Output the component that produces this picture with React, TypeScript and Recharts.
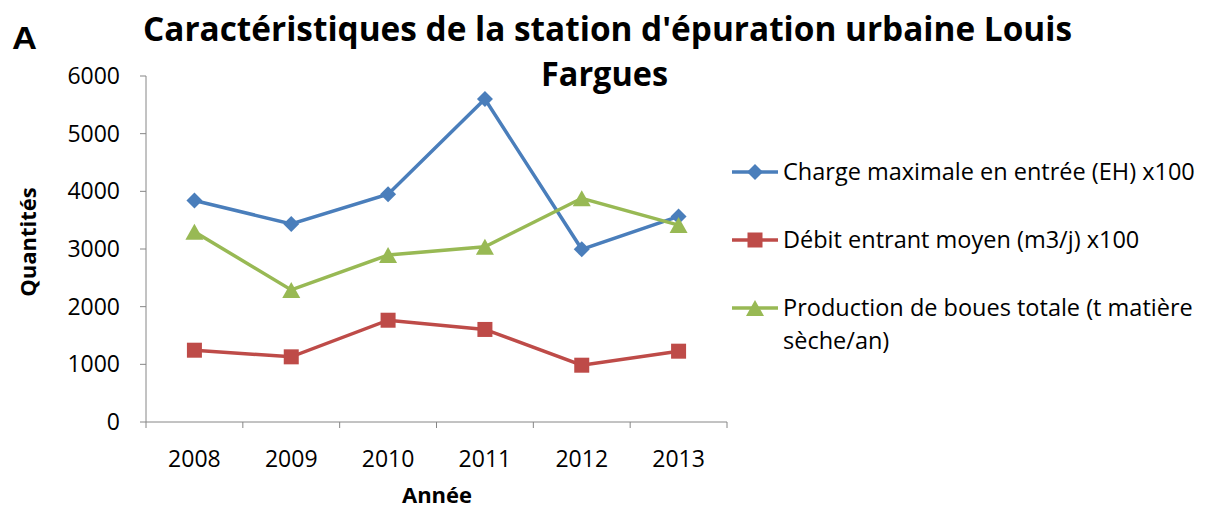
import React from "react";
import { LineChart, Line, XAxis, YAxis } from "recharts";

const years = ["2008", "2009", "2010", "2011", "2012", "2013"];
const charge = [3840, 3435, 3950, 5600, 2995, 3565];
const debit = [1245, 1130, 1765, 1605, 985, 1228];
const boues = [3300, 2290, 2895, 3040, 3880, 3415];
const yTicks = [0, 1000, 2000, 3000, 4000, 5000, 6000];

const seriesNames = [
  "Charge maximale en entrée (EH) x100",
  "Débit entrant moyen (m3/j) x100",
  "Production de boues totale (t matière",
];
const seriesNameCont = "sèche/an)";
const titleLine1 = "Caractéristiques de la station d'épuration urbaine Louis";
const titleLine2 = "Fargues";

const BLUE = "#4A7EBB";
const RED = "#BE4B48";
const GREEN = "#98B954";
const AXIS = "#868686";
const FONT = "'Open Sans', 'Noto Sans', sans-serif";

const data = years.map((y, i) => ({ year: y, charge: charge[i], debit: debit[i], boues: boues[i] }));

const Diamond = (p: any) => {
  const { cx, cy } = p;
  if (cx == null || cy == null) return null;
  const r = 8;
  return <path key={`d${cx}`} d={`M${cx},${cy - r}L${cx + r},${cy}L${cx},${cy + r}L${cx - r},${cy}Z`} fill={BLUE} />;
};
const Square = (p: any) => {
  const { cx, cy } = p;
  if (cx == null || cy == null) return null;
  const r = 7.5;
  return <rect key={`s${cx}`} x={cx - r} y={cy - r} width={2 * r} height={2 * r} fill={RED} />;
};
const Triangle = (p: any) => {
  const { cx, cy } = p;
  if (cx == null || cy == null) return null;
  const w = 9, h = 8;
  return <path key={`t${cx}`} d={`M${cx},${cy - h}L${cx + w},${cy + h}L${cx - w},${cy + h}Z`} fill={GREEN} />;
};

const XTick = (props: any) => {
  const { x, y, payload, index } = props;
  const off = payload && payload.offset ? payload.offset : 48.4;
  return (
    <g>
      <line x1={x - off} x2={x - off} y1={y} y2={y + 6} stroke={AXIS} strokeWidth={1} />
      {index === years.length - 1 && (
        <line x1={x + off} x2={x + off} y1={y} y2={y + 6} stroke={AXIS} strokeWidth={1} />
      )}
      <text x={x} y={y + 45} textAnchor="middle" fontFamily={FONT} fontSize={23} fill="#000">
        {payload.value}
      </text>
    </g>
  );
};

export default function App() {
  return (
    <div style={{ position: "absolute", left: 0, top: 0, width: 1207, height: 509, background: "#fff", overflow: "hidden" }}>
      <LineChart
        width={1207}
        height={509}
        data={data}
        margin={{ top: 76, right: 480, bottom: 37, left: 46 }}
      >
        <XAxis
          dataKey="year"
          scale="band"
          height={50}
          tick={<XTick />}
          tickLine={false}
          tickSize={0}
          tickMargin={0}
          axisLine={{ stroke: AXIS, strokeWidth: 1 }}
          interval={0}
        />
        <YAxis
          width={100}
          domain={[0, 6000]}
          ticks={yTicks}
          interval={0}
          tickSize={6}
          tickMargin={20}
          tickLine={{ stroke: AXIS }}
          axisLine={{ stroke: AXIS, strokeWidth: 1 }}
          tick={{ fontFamily: FONT, fontSize: 23, fill: "#000" }}
        />
        <Line dataKey="charge" stroke={BLUE} strokeWidth={3.5} dot={<Diamond />} activeDot={false} isAnimationActive={false} />
        <Line dataKey="debit" stroke={RED} strokeWidth={3.5} dot={<Square />} activeDot={false} isAnimationActive={false} />
        <Line dataKey="boues" stroke={GREEN} strokeWidth={3.5} dot={<Triangle />} activeDot={false} isAnimationActive={false} />
      </LineChart>
      <svg width={1207} height={509} style={{ position: "absolute", left: 0, top: 0, pointerEvents: "none" }}>
        <text x={12} y={49} textLength={25} lengthAdjust="spacingAndGlyphs" fontFamily="'Liberation Sans', Arial, sans-serif" fontWeight="bold" fontSize={31} fill="#000">A</text>
        <text x={143} y={41} textLength={929} lengthAdjust="spacingAndGlyphs" fontFamily={FONT} fontWeight="bold" fontSize={34} fill="#000">{titleLine1}</text>
        <text x={541} y={86} textLength={127} lengthAdjust="spacingAndGlyphs" fontFamily={FONT} fontWeight="bold" fontSize={34} fill="#000">{titleLine2}</text>
        <text x={0} y={0} transform="translate(36,242) rotate(-90)" textAnchor="middle" fontFamily={FONT} fontWeight="bold" fontSize={22} fill="#000">Quantités</text>
        <text x={437} y={503} textAnchor="middle" fontFamily={FONT} fontWeight="bold" fontSize={22} fill="#000">Année</text>
        <g>
          <line x1={732} x2={778} y1={172} y2={172} stroke={BLUE} strokeWidth={3.5} />
          <Diamond cx={755} cy={172} />
          <text x={783} y={180} fontFamily={FONT} fontSize={23.5} fill="#000">{seriesNames[0]}</text>
          <line x1={732} x2={778} y1={240} y2={240} stroke={RED} strokeWidth={3.5} />
          <Square cx={755} cy={240} />
          <text x={783} y={248} fontFamily={FONT} fontSize={23.5} fill="#000">{seriesNames[1]}</text>
          <line x1={732} x2={778} y1={308} y2={308} stroke={GREEN} strokeWidth={3.5} />
          <Triangle cx={755} cy={308} />
          <text x={783} y={316} fontFamily={FONT} fontSize={23.5} fill="#000">{seriesNames[2]}</text>
          <text x={783} y={349} fontFamily={FONT} fontSize={23.5} fill="#000">{seriesNameCont}</text>
        </g>
      </svg>
    </div>
  );
}
